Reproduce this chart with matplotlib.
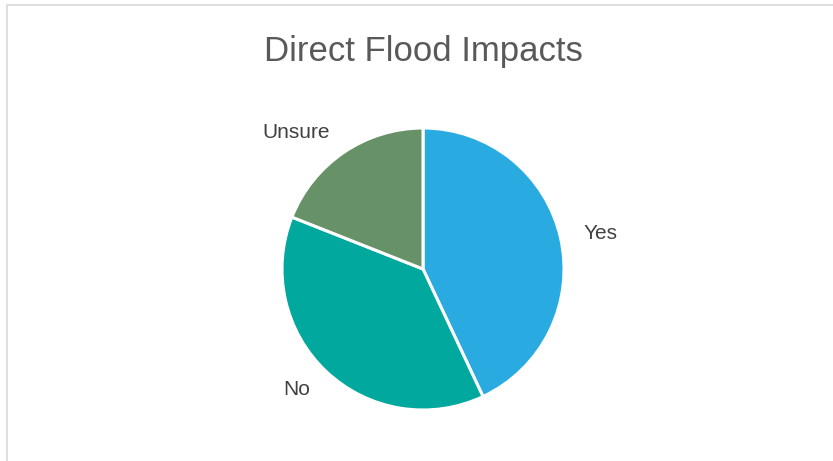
import matplotlib
matplotlib.use("Agg")
import matplotlib.pyplot as plt
from matplotlib.patches import Rectangle

# data
categories = ["Yes", "No", "Unsure"]
shares = [43, 38, 19]
colors = ["#29ABE2", "#00A89D", "#679267"]

W, H = 833, 461
fig = plt.figure(figsize=(W / 100, H / 100), dpi=100)
fig.patch.set_facecolor("white")

# chart frame (light gray, runs off right/bottom edge)
fig.patches.append(Rectangle((7 / W, -0.1), 1.2, (H - 5) / H + 0.1, transform=fig.transFigure,
                             fill=False, edgecolor="#D9D9D9", linewidth=1.2))

cx, cy, r = 423, 269, 141
ax = fig.add_axes([(cx - r) / W, (H - cy - r) / H, 2 * r / W, 2 * r / H])
wedges, texts = ax.pie(shares, labels=categories, colors=colors, startangle=90,
                       counterclock=False, labeldistance=1.17,
                       wedgeprops=dict(edgecolor="white", linewidth=2.2),
                       textprops=dict(fontsize=15, color="#404040",
                                      family=["Liberation Sans", "DejaVu Sans"]))
ax.set_xlim(-1, 1)
ax.set_ylim(-1, 1)
ax.set_aspect("equal")
ax.axis("off")

fig.text(cx / W, 1 - 51 / H, "Direct Flood Impacts", ha="center", va="center",
         fontsize=25, color="#595959", family=["Liberation Sans", "DejaVu Sans"])

fig.savefig("out.png", dpi=100)
